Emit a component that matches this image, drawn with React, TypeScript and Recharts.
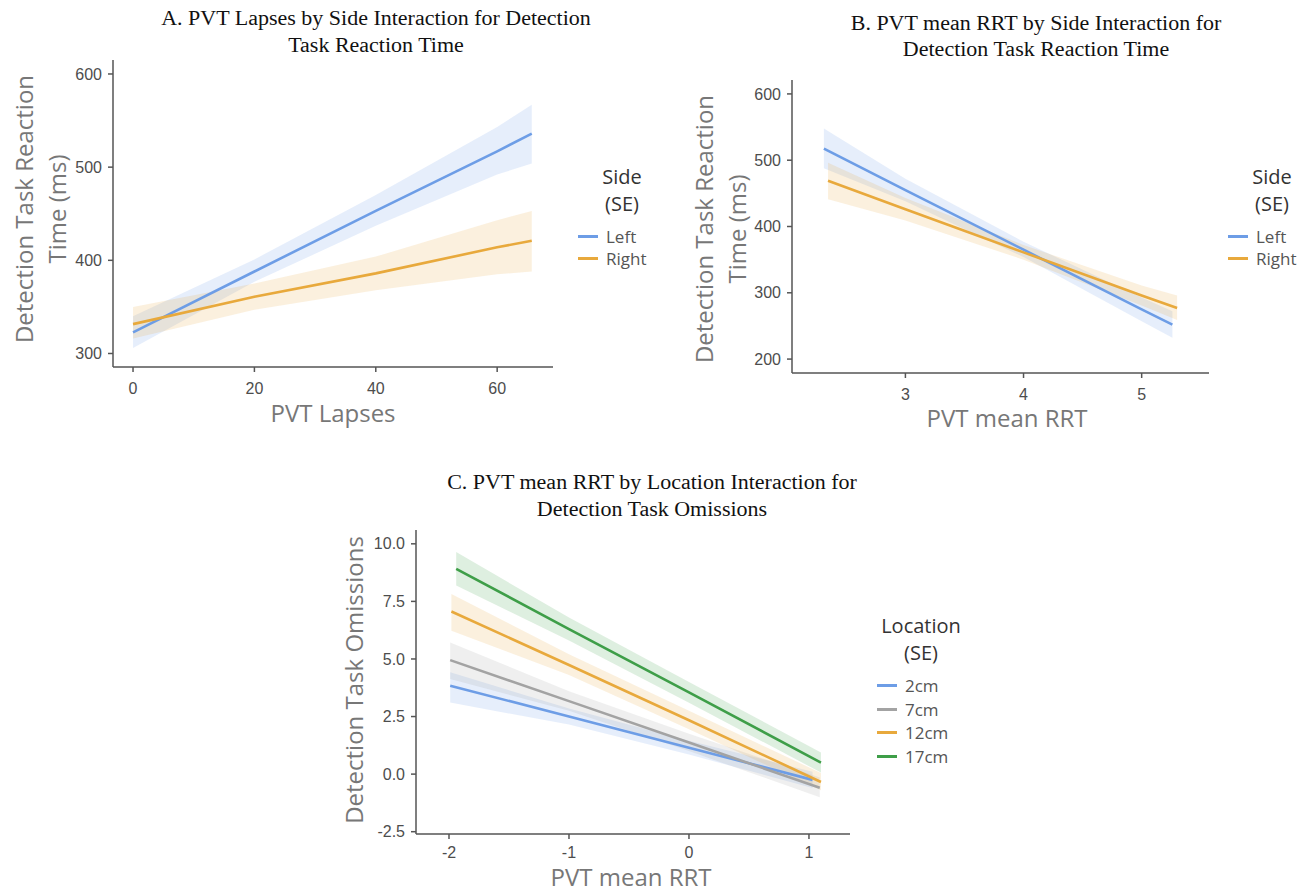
// Tres paneles de regresion con bandas de error (SE), estilo ggplot.
import { Area, ComposedChart, Legend, Line, XAxis, YAxis } from "recharts";

// Panel A: PVT Lapses x Side
const A_LAPSES = [0, 20, 40, 60, 65.7];
const A_LEFT = [322.6, 388, 453, 517, 536];
const A_LEFT_LO = [306, 377, 437, 492, 504];
const A_LEFT_HI = [340, 401, 470, 543, 567];
const A_RIGHT = [331.5, 361, 386, 414, 421];
const A_RIGHT_LO = [316, 347, 368, 385, 388];
const A_RIGHT_HI = [350, 375, 404, 443, 453];
const A_X_TICKS = [0, 20, 40, 60];
const A_Y_TICKS = [300, 400, 500, 600];

// Panel B: PVT mean RRT x Side
const B_RRT = [2.31, 2.345, 3, 4, 5, 5.26, 5.3];
const B_LEFT = [517.5, null, 455, 365, 275, 252, null];
const B_LEFT_LO = [488, null, 438, 354, 257, 232, null];
const B_LEFT_HI = [548, null, 472, 377, 293, 272, null];
const B_RIGHT = [null, 469, 426, 361, 296, null, 277];
const B_RIGHT_LO = [null, 441, 409, 350, 281, null, 259];
const B_RIGHT_HI = [null, 496, 443, 372, 311, null, 296];
const B_X_TICKS = [3, 4, 5];
const B_Y_TICKS = [200, 300, 400, 500, 600];

// Panel C: PVT mean RRT x Location
const C_RRT = [-1.99, -1.98, -1.94, -1, 0, 1.03, 1.09, 1.1];
const C_2CM = [3.84, null, null, 2.5, 1.15, -0.25, null, null];
const C_2CM_LO = [3.11, null, null, 2.15, 0.85, -0.6, null, null];
const C_2CM_HI = [4.42, null, null, 2.85, 1.45, 0.1, null, null];
const C_7CM = [4.95, null, null, 3.17, 1.37, null, -0.59, null];
const C_7CM_LO = [4.13, null, null, 2.75, 1.0, null, -1.0, null];
const C_7CM_HI = [5.72, null, null, 3.6, 1.75, null, -0.15, null];
const C_12CM = [null, 7.06, null, 4.74, 2.34, null, null, -0.34];
const C_12CM_LO = [null, 6.23, null, 4.3, 1.95, null, null, -0.7];
const C_12CM_HI = [null, 7.82, null, 5.2, 2.75, null, null, 0.05];
const C_17CM = [null, null, 8.91, 6.3, 3.55, null, null, 0.5];
const C_17CM_LO = [null, null, 8.19, 5.8, 3.1, null, null, 0.07];
const C_17CM_HI = [null, null, 9.64, 6.8, 4.0, null, null, 0.94];
const C_X_TICKS = [-2, -1, 0, 1];
const C_Y_TICKS = [-2.5, 0, 2.5, 5, 7.5, 10];

const BLUE = "#6d9de6";
const ORANGE = "#e8a93c";
const GRAY = "#a3a3a3";
const GREEN = "#3e9e48";

type Row = Record<string, number | null>;
type Series = { name: string; key: string; color: string };

function buildRows(x: number[], cols: Record<string, (number | null)[]>): Row[] {
  return x.map((v, i) => {
    const row: Row = { x: v };
    for (const k in cols) row[k] = cols[k][i];
    return row;
  });
}

const A_DATA = buildRows(A_LAPSES, {
  left: A_LEFT, leftLo: A_LEFT_LO, leftHi: A_LEFT_HI,
  right: A_RIGHT, rightLo: A_RIGHT_LO, rightHi: A_RIGHT_HI,
});
const B_DATA = buildRows(B_RRT, {
  left: B_LEFT, leftLo: B_LEFT_LO, leftHi: B_LEFT_HI,
  right: B_RIGHT, rightLo: B_RIGHT_LO, rightHi: B_RIGHT_HI,
});
const C_DATA = buildRows(C_RRT, {
  c2: C_2CM, c2Lo: C_2CM_LO, c2Hi: C_2CM_HI,
  c7: C_7CM, c7Lo: C_7CM_LO, c7Hi: C_7CM_HI,
  c12: C_12CM, c12Lo: C_12CM_LO, c12Hi: C_12CM_HI,
  c17: C_17CM, c17Lo: C_17CM_LO, c17Hi: C_17CM_HI,
});

const SIDE: Series[] = [
  { name: "Left", key: "left", color: BLUE },
  { name: "Right", key: "right", color: ORANGE },
];
const LOCATION: Series[] = [
  { name: "2cm", key: "c2", color: BLUE },
  { name: "7cm", key: "c7", color: GRAY },
  { name: "12cm", key: "c12", color: ORANGE },
  { name: "17cm", key: "c17", color: GREEN },
];

const SANS = "'Open Sans', 'Noto Sans', sans-serif";
const TICK = { fontSize: 16, fill: "#4d4d4d", fontFamily: "'Liberation Sans', Arial, sans-serif" };
const AXIS = { stroke: "#555", strokeWidth: 1.5 };

// Leyenda estilo ggplot: titulo en dos lineas centrado y claves como trazos cortos.
// El orden sale de la lista de series (Recharts ordena el payload por nombre).
function legendContent(title: string[], series: Series[], rowH: number) {
  return (props: any) => {
    const items = (props.payload || []).filter((p: any) => p.type !== "none");
    const ordered = series.filter((s) => items.some((p: any) => p.value === s.name));
    return (
      <div style={{ fontFamily: SANS }}>
        <div style={{ width: 88, textAlign: "center", fontSize: 20, lineHeight: "27px", color: "#333", marginBottom: 8 }}>
          {title.map((t) => (
            <div key={t}>{t}</div>
          ))}
        </div>
        {ordered.map((s) => (
          <div key={s.key} style={{ display: "flex", alignItems: "center", height: rowH }}>
            <span style={{ width: 20, height: 3, background: s.color, display: "inline-block" }} />
            <span style={{ marginLeft: 8, fontSize: 17, color: "#555" }}>{s.name}</span>
          </div>
        ))}
      </div>
    );
  };
}

type PanelProps = {
  left: number;
  top: number;
  width: number;
  height: number;
  margin: { top: number; right: number; bottom: number; left: number };
  data: Row[];
  series: Series[];
  xDomain: [number, number];
  xTicks: number[];
  xTickMargin: number;
  yDomain: [number, number];
  yTicks: number[];
  yFmt?: (v: number) => string;
  legendTitle: string[];
  legendPos: { left: number; top: number };
  legendRow: number;
};

function Panel(p: PanelProps) {
  return (
    <div style={{ position: "absolute", left: p.left, top: p.top }}>
      <ComposedChart width={p.width} height={p.height} data={p.data} margin={p.margin}>
        <XAxis
          dataKey="x"
          type="number"
          domain={p.xDomain}
          ticks={p.xTicks}
          allowDataOverflow
          tick={TICK}
          tickSize={5}
          tickMargin={p.xTickMargin}
          axisLine={AXIS}
          tickLine={AXIS}
          height={40}
        />
        <YAxis
          type="number"
          domain={p.yDomain}
          ticks={p.yTicks}
          allowDataOverflow
          tick={TICK}
          tickSize={5}
          tickMargin={6}
          axisLine={AXIS}
          tickLine={AXIS}
          tickFormatter={p.yFmt}
          width={60}
        />
        {p.series.map((s) => (
          <Area
            key={`${s.key}-band`}
            dataKey={(d: Row) => (d[`${s.key}Lo`] == null ? null : [d[`${s.key}Lo`], d[`${s.key}Hi`]])}
            stroke="none"
            fill={s.color}
            fillOpacity={0.17}
            connectNulls
            legendType="none"
            isAnimationActive={false}
          />
        ))}
        {p.series.map((s) => (
          <Line
            key={s.key}
            name={s.name}
            dataKey={s.key}
            stroke={s.color}
            strokeWidth={2.6}
            dot={false}
            connectNulls
            legendType="line"
            isAnimationActive={false}
          />
        ))}
        <Legend
          layout="vertical"
          align="center"
          verticalAlign="middle"
          content={legendContent(p.legendTitle, p.series, p.legendRow)}
          wrapperStyle={{ left: p.legendPos.left, top: p.legendPos.top, width: 110 }}
        />
      </ComposedChart>
    </div>
  );
}

function Title({ cx, top, lines, lh }: { cx: number; top: number; lines: string[]; lh: number }) {
  return (
    <div
      style={{
        position: "absolute",
        left: cx,
        top,
        transform: "translateX(-50%) scaleX(1.1)",
        fontFamily: "'Liberation Serif', 'Times New Roman', serif",
        fontSize: 20,
        lineHeight: `${lh}px`,
        color: "#111",
        textAlign: "center",
        whiteSpace: "nowrap",
      }}
    >
      {lines.map((l) => (
        <div key={l}>{l}</div>
      ))}
    </div>
  );
}

function AxisTitle({ cx, cy, lines, rotate }: { cx: number; cy: number; lines: string[]; rotate?: boolean }) {
  return (
    <div
      style={{
        position: "absolute",
        left: cx,
        top: cy,
        transform: `translate(-50%, -50%)${rotate ? " rotate(-90deg)" : ""}`,
        fontFamily: SANS,
        fontSize: 24,
        lineHeight: lines.length > 1 ? "33px" : "26px",
        color: "#777",
        textAlign: "center",
        whiteSpace: "nowrap",
      }}
    >
      {lines.map((l) => (
        <div key={l}>{l}</div>
      ))}
    </div>
  );
}

export default function App() {
  return (
    <div style={{ position: "absolute", left: 0, top: 0, width: 1311, height: 893, background: "#fff", overflow: "hidden" }}>
      <Panel
        left={0}
        top={0}
        width={700}
        height={430}
        margin={{ top: 60, right: 147, bottom: 23, left: 53 }}
        data={A_DATA}
        series={SIDE}
        xDomain={[-3.3, 69.2]}
        xTicks={A_X_TICKS}
        xTickMargin={11}
        yDomain={[285.5, 615]}
        yTicks={A_Y_TICKS}
        legendTitle={["Side", "(SE)"]}
        legendPos={{ left: 578, top: 163 }}
        legendRow={22}
      />
      <Panel
        left={660}
        top={0}
        width={651}
        height={430}
        margin={{ top: 80, right: 102, bottom: 17, left: 72 }}
        data={B_DATA}
        series={SIDE}
        xDomain={[2.04, 5.57]}
        xTicks={B_X_TICKS}
        xTickMargin={11}
        yDomain={[179, 621]}
        yTicks={B_Y_TICKS}
        legendTitle={["Side", "(SE)"]}
        legendPos={{ left: 568, top: 163 }}
        legendRow={22}
      />
      <Panel
        left={330}
        top={460}
        width={650}
        height={433}
        margin={{ top: 70, right: 130, bottom: 19, left: 26 }}
        data={C_DATA}
        series={LOCATION}
        xDomain={[-2.275, 1.342]}
        xTicks={C_X_TICKS}
        xTickMargin={8}
        yDomain={[-2.6, 10.6]}
        yTicks={C_Y_TICKS}
        yFmt={(v) => v.toFixed(1)}
        legendTitle={["Location", "(SE)"]}
        legendPos={{ left: 547, top: 152 }}
        legendRow={23.5}
      />

      <Title cx={376} top={5} lh={27} lines={["A. PVT Lapses by Side Interaction for Detection", "Task Reaction Time"]} />
      <Title cx={1036} top={10} lh={26} lines={["B. PVT mean RRT by Side Interaction for", "Detection Task Reaction Time"]} />
      <Title cx={652} top={469} lh={27} lines={["C. PVT mean RRT by Location Interaction for", "Detection Task Omissions"]} />

      <AxisTitle cx={39.5} cy={209} rotate lines={["Detection Task Reaction", "Time (ms)"]} />
      <AxisTitle cx={720} cy={229} rotate lines={["Detection Task Reaction", "Time (ms)"]} />
      <AxisTitle cx={354} cy={680} rotate lines={["Detection Task Omissions"]} />

      <AxisTitle cx={333} cy={413} lines={["PVT Lapses"]} />
      <AxisTitle cx={1007} cy={418} lines={["PVT mean RRT"]} />
      <AxisTitle cx={631} cy={877} lines={["PVT mean RRT"]} />
    </div>
  );
}
